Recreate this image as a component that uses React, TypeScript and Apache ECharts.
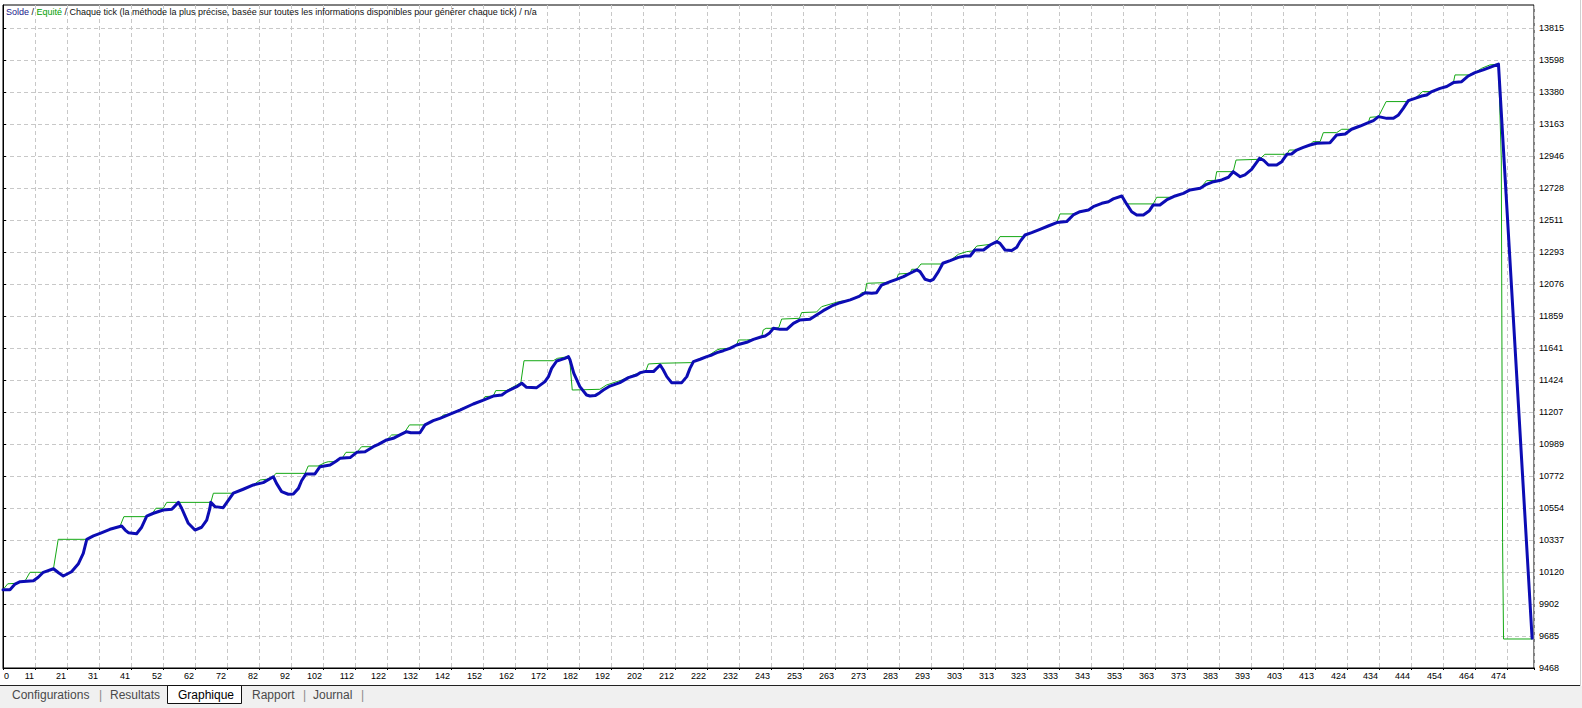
import React, { useEffect, useRef } from 'react';
import * as echarts from 'echarts';

const xLabels = ['0', '11', '21', '31', '41', '52', '62', '72', '82', '92', '102', '112', '122', '132', '142', '152', '162', '172', '182', '192', '202', '212', '222', '232', '243', '253', '263', '273', '283', '293', '303', '313', '323', '333', '343', '353', '363', '373', '383', '393', '403', '413', '424', '434', '444', '454', '464', '474'];
const xLastTick = 474;
const xMax = 482.5;

const yTicks = [9468, 9685, 9902, 10120, 10337, 10554, 10772, 10989, 11207, 11424, 11641, 11859, 12076, 12293, 12511, 12728, 12946, 13163, 13380, 13598, 13815];
const yMin = 9468;
const yMax = 13971;

const soldeData: number[][] = [
  [0, 10000], [2.2, 10000], [3.8, 10038], [5.4, 10054], [9.6, 10061], [11.1, 10084], [12.7, 10118], [15.9, 10142], [17.5, 10115], [19.0, 10093], [21.6, 10122], [23.7, 10174], [25.3, 10247], [26.4, 10342], [28.5, 10365], [30.6, 10383], [33.7, 10410], [37.4, 10432], [38.5, 10405], [39.5, 10387], [42.1, 10380], [43.7, 10424], [45.3, 10500], [47.4, 10519], [50.5, 10541], [53.2, 10546], [55.3, 10593], [56.3, 10553], [58.4, 10451], [60.5, 10405], [62.6, 10424], [64.2, 10473], [65.2, 10553], [65.5, 10593], [66.8, 10564], [69.4, 10557], [72.6, 10655], [75.7, 10682], [78.9, 10711], [82.0, 10727], [85.2, 10767], [86.2, 10722], [87.8, 10666], [89.9, 10648], [91.5, 10650], [93.1, 10688], [94.1, 10740], [95.5, 10786], [98.3, 10786], [99.9, 10835],
  [103.1, 10847], [105.2, 10876], [106.2, 10892], [109.4, 10897], [111.5, 10933], [114.1, 10937], [116.7, 10971], [118.3, 10987], [120.9, 11017], [123.0, 11028], [125.1, 11051], [127.2, 11073], [128.5, 11066], [131.4, 11066], [133.0, 11119], [135.6, 11148], [137.7, 11164], [140.9, 11193], [144.0, 11220], [148.2, 11261], [151.4, 11288], [154.5, 11315], [157.2, 11322], [158.7, 11345], [161.9, 11379], [163.5, 11402], [165.0, 11374], [168.2, 11372], [170.8, 11413], [171.9, 11447], [172.9, 11503], [174.5, 11553], [177.1, 11571], [178.2, 11583], [178.7, 11560], [179.9, 11469], [181.8, 11379], [183.9, 11322], [185.0, 11315], [186.6, 11318], [188.1, 11338], [189.2, 11356], [191.3, 11383], [194.4, 11406], [197.1, 11440], [199.7, 11458],
  [200.8, 11474], [202.3, 11481], [205.0, 11481], [207.1, 11526], [208.1, 11492], [209.2, 11447], [210.7, 11406], [213.9, 11406], [215.5, 11447], [216.5, 11503], [217.6, 11549], [219.7, 11565], [221.8, 11583], [223.4, 11594], [225.0, 11610], [227.0, 11623], [229.1, 11639], [231.2, 11662], [234.4, 11680], [236.5, 11700], [239.1, 11718], [240.2, 11723], [241.5, 11741], [242.8, 11775], [244.9, 11768], [247.0, 11768], [249.1, 11809], [251.2, 11832], [254.3, 11836], [255.9, 11859], [258.5, 11895], [261.2, 11927], [263.8, 11949], [267.0, 11968], [269.6, 11990], [271.7, 12017], [273.8, 12013], [275.3, 12017], [276.9, 12069], [279.6, 12092], [281.6, 12108], [283.8, 12126], [285.9, 12149], [288.0, 12172], [289.0, 12160], [290.6, 12108], [292.2, 12097], [293.2, 12108], [294.8, 12160], [296.2, 12217], [298.5, 12235], [301.1, 12257],
  [303.2, 12266], [304.8, 12266], [306.3, 12307], [309.0, 12307], [311.1, 12341], [313.2, 12364], [314.2, 12352], [315.8, 12307], [317.9, 12303], [319.5, 12325], [320.5, 12364], [322.1, 12409], [324.2, 12425], [326.8, 12447], [329.4, 12470], [332.1, 12493], [335.2, 12500], [337.3, 12545], [339.4, 12567], [342.1, 12579], [343.6, 12601], [346.3, 12624], [348.4, 12635], [349.9, 12654], [352.6, 12674], [354.1, 12620], [355.7, 12567], [357.3, 12545], [359.4, 12545], [361.3, 12574], [362.5, 12613], [364.6, 12613], [366.7, 12647], [369.4, 12674], [372.0, 12692], [374.1, 12715], [377.3, 12726], [379.3, 12753], [381.5, 12771], [384.1, 12783], [386.2, 12801], [387.7, 12839], [389.9, 12805], [391.4, 12817], [393.5, 12855], [396.0, 12930], [397.2, 12918], [398.8, 12884], [401.4, 12884], [403.0, 12907],
  [404.6, 12957], [406.1, 12959], [407.7, 12986], [409.8, 13004], [411.9, 13020], [414.0, 13032], [418.2, 13036], [420.3, 13088], [423.0, 13095], [425.0, 13127], [427.7, 13149], [430.3, 13172], [431.9, 13186], [433.5, 13213], [436.1, 13201], [438.2, 13201], [439.8, 13224], [441.3, 13269], [442.9, 13321], [445.0, 13337], [447.1, 13353], [448.7, 13360], [450.3, 13383], [452.9, 13405], [455.0, 13417], [457.1, 13444], [459.7, 13450], [461.8, 13489], [463.9, 13512], [466.5, 13530], [468.6, 13548], [471.3, 13570], [481.9, 9670],
];

const equiteData: number[][] = [
  [0, 10000], [1.5, 10040], [4.1, 10043], [5.4, 10054], [7.0, 10061], [8.5, 10118], [12.2, 10118], [12.7, 10118], [15.9, 10142], [17.4, 10342], [26.4, 10342], [28.5, 10365], [30.6, 10383], [33.7, 10410], [36.9, 10432], [38.1, 10496], [45.3, 10496], [47.1, 10519], [48.2, 10553], [50.5, 10553], [51.6, 10593], [65.5, 10593], [66.3, 10655], [72.6, 10655], [75.7, 10682], [78.9, 10711], [81.0, 10745], [83.1, 10750], [85.2, 10767], [86.0, 10790], [95.2, 10790], [96.2, 10840], [99.3, 10840], [99.9, 10846],
  [101.5, 10863], [102.5, 10869], [104.6, 10869], [106.2, 10892], [107.0, 10897], [108.1, 10933], [111.5, 10933], [113.0, 10971], [116.7, 10971], [118.3, 10987], [120.9, 11017], [122.5, 11051], [125.1, 11051], [126.7, 11073], [128.1, 11119], [132.5, 11119], [135.6, 11148], [137.7, 11164], [138.8, 11186], [140.9, 11193], [144.0, 11225], [148.2, 11261], [151.4, 11288], [151.9, 11311], [154.5, 11315], [155.3, 11352], [158.7, 11352], [161.9, 11390], [163.2, 11406], [164.2, 11555], [173.4, 11555], [174.7, 11571], [178.2, 11583], [178.7, 11537], [179.4, 11356], [188.1, 11361], [190.2, 11390], [195.0, 11424], [199.2, 11463], [201.8, 11474], [202.5, 11481], [203.4, 11533], [207.6, 11538], [216.8, 11542], [217.6, 11549],
  [219.7, 11565], [221.8, 11583], [225.0, 11628], [226.0, 11635], [228.6, 11639], [231.2, 11662], [231.8, 11696], [234.4, 11696], [236.5, 11700], [239.1, 11718], [239.6, 11764], [240.5, 11775], [242.8, 11775], [244.5, 11780], [245.4, 11838], [251.0, 11843], [251.7, 11882], [256.4, 11886], [258.0, 11922], [263.3, 11956], [267.0, 11968], [269.6, 11990], [270.6, 12017], [271.7, 12020], [272.2, 12081], [278.0, 12085], [279.6, 12092], [281.6, 12108], [282.2, 12144], [285.9, 12149], [286.4, 12176], [288.0, 12176], [289.3, 12212], [295.8, 12212], [296.2, 12217], [298.5, 12235], [301.1, 12278],
  [303.7, 12296], [305.5, 12300], [306.9, 12334], [309.5, 12341], [311.1, 12345], [313.2, 12364], [314.2, 12398], [321.6, 12398], [322.1, 12409], [324.2, 12425], [326.8, 12447], [329.4, 12470], [332.1, 12493], [333.1, 12552], [337.3, 12552], [339.4, 12567], [342.1, 12582], [343.6, 12605], [346.3, 12626], [348.4, 12640], [349.9, 12658], [352.6, 12674], [354.1, 12620], [362.5, 12620], [363.6, 12665], [367.8, 12665], [369.4, 12674], [372.0, 12692], [374.1, 12715], [377.3, 12726], [379.3, 12778], [382.0, 12780], [382.5, 12839], [387.7, 12839], [388.6, 12918], [396.0, 12923], [397.7, 12957], [404.6, 12957],
  [405.4, 12986], [407.7, 12986], [409.8, 13004], [411.9, 13020], [412.8, 13043], [415.1, 13043], [416.1, 13104], [420.3, 13104], [421.9, 13127], [425.0, 13127], [427.7, 13149], [430.3, 13172], [430.8, 13208], [433.5, 13213], [435.9, 13315], [442.9, 13315], [445.0, 13337], [447.4, 13383], [450.3, 13383], [452.9, 13405], [455.0, 13417], [457.1, 13444], [457.6, 13496], [461.8, 13496], [463.9, 13512], [466.0, 13541], [468.6, 13564], [471.3, 13570], [472.2, 12918], [472.6, 10320], [472.9, 9665], [481.9, 9665],
];

const tabs = ['Configurations', 'Resultats', 'Graphique', 'Rapport', 'Journal'];

const FONT = 'Liberation Sans';

export default function App() {
  const ref = useRef<HTMLDivElement>(null);

  useEffect(() => {
    const chart = echarts.init(ref.current as HTMLDivElement, null, { renderer: 'svg' });
    const step = xLastTick / (xLabels.length - 1);
    const tabColor = '#4a4a4a';
    const tabText = (text: string, x: number, color: string) => ({
      type: 'text',
      x,
      y: 695,
      style: { text, fill: color, font: `12px "${FONT}"`, textVerticalAlign: 'middle', verticalAlign: 'middle' },
      silent: true,
    });
    chart.setOption({
      animation: false,
      backgroundColor: '#ffffff',
      title: {
        text: '{b|Solde} / {g|Equité} / Chaque tick (la méthode la plus précise, basée sur toutes les informations disponibles pour générer chaque tick) / n/a',
        left: 6,
        top: 7,
        padding: 0,
        textStyle: {
          fontFamily: FONT,
          fontSize: 9,
          fontWeight: 'normal',
          color: '#111111',
          rich: {
            b: { color: '#20208c', fontFamily: FONT, fontSize: 9 },
            g: { color: '#00a000', fontFamily: FONT, fontSize: 9 },
          },
        },
      },
      grid: {
        left: 3,
        right: 48,
        top: 5,
        bottom: 40,
        show: true,
        borderColor: '#000000',
        borderWidth: 1,
        backgroundColor: 'transparent',
        outerBoundsMode: 'none',
        containLabel: false,
      },
      xAxis: {
        type: 'value',
        min: 0,
        max: xMax,
        interval: step,
        axisLine: { show: true, lineStyle: { color: '#000000', width: 1 } },
        axisTick: { show: true, length: 2, lineStyle: { color: '#000000' } },
        splitLine: { show: true, lineStyle: { color: '#c8c8c8', width: 1, type: [4, 3] } },
        axisLabel: {
          formatter: (v: number) => xLabels[Math.round(v / step)] ?? '',
          align: 'right',
          alignMinLabel: 'left',
          margin: 3,
          padding: [0, 1, 0, 1],
          fontFamily: FONT,
          fontSize: 9,
          color: '#000000',
        },
      },
      yAxis: {
        type: 'value',
        position: 'right',
        min: yMin,
        max: yMax,
        axisLine: { show: true, lineStyle: { color: '#000000', width: 1 } },
        axisTick: { show: true, length: 3, customValues: yTicks, lineStyle: { color: '#000000' } },
        splitLine: { show: true, lineStyle: { color: '#c8c8c8', width: 1, type: [4, 3] } },
        axisLabel: {
          customValues: yTicks,
          formatter: (v: number) => String(Math.round(v)),
          margin: 5,
          fontFamily: FONT,
          fontSize: 9,
          color: '#000000',
        },
      },
      series: [
        {
          name: 'Equité',
          type: 'line',
          data: equiteData,
          symbol: 'none',
          showSymbol: false,
          lineStyle: { color: '#14a814', width: 1 },
          z: 2,
        },
        {
          name: 'Solde',
          type: 'line',
          data: soldeData,
          symbol: 'none',
          showSymbol: false,
          lineStyle: { color: '#0c0cb4', width: 3, join: 'round', cap: 'round' },
          z: 3,
        },
      ],
      graphic: [
        { type: 'rect', shape: { x: 0, y: 686, width: 1582, height: 22 }, style: { fill: '#f0f0f0' }, silent: true, z: 1 },
        { type: 'line', shape: { x1: 0, y1: 685.5, x2: 1580, y2: 685.5 }, style: { stroke: '#222222', lineWidth: 1 }, silent: true, z: 2 },
        { type: 'line', shape: { x1: 1580.5, y1: 0, x2: 1580.5, y2: 686 }, style: { stroke: '#d0d0d0', lineWidth: 1 }, silent: true, z: 2 },
        { type: 'rect', shape: { x: 167.5, y: 685.5, width: 74, height: 18 }, style: { fill: '#ffffff', stroke: '#111111', lineWidth: 1 }, silent: true, z: 3 },
        { ...tabText(tabs[0], 12, tabColor), z: 4 },
        { ...tabText('|', 99, '#8a8a8a'), z: 4 },
        { ...tabText(tabs[1], 110, tabColor), z: 4 },
        { ...tabText(tabs[2], 178, '#000000'), z: 4 },
        { ...tabText(tabs[3], 252, tabColor), z: 4 },
        { ...tabText('|', 303, '#8a8a8a'), z: 4 },
        { ...tabText(tabs[4], 313, tabColor), z: 4 },
        { ...tabText('|', 361, '#8a8a8a'), z: 4 },
      ],
    });
    return () => chart.dispose();
  }, []);

  return (
    <div
      ref={ref}
      style={{ position: 'absolute', left: 0, top: 0, width: 1582, height: 708, background: '#ffffff' }}
    />
  );
}
